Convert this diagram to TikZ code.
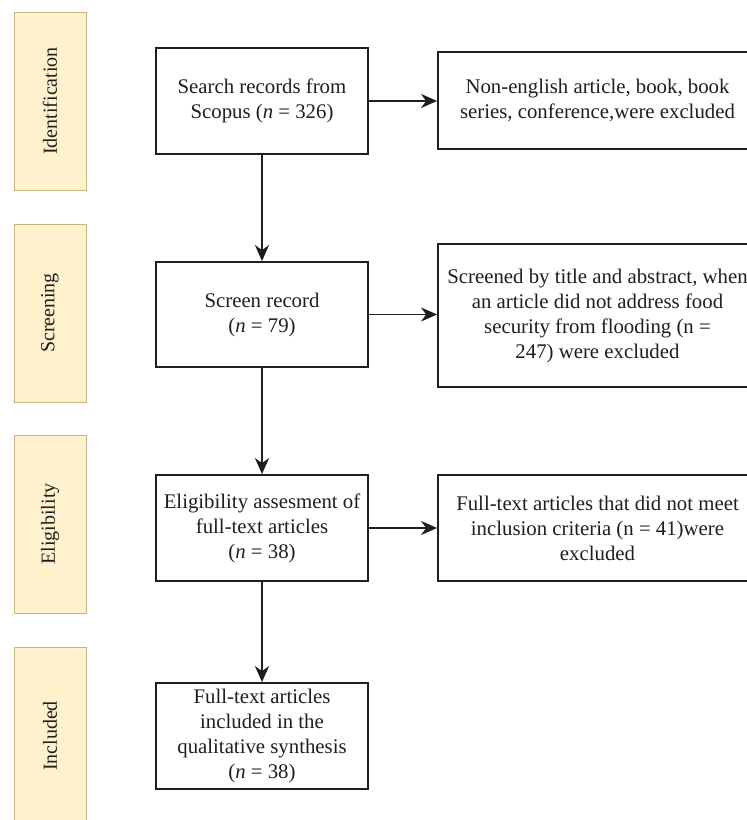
\documentclass[tikz,border=0pt]{standalone}
\usepackage{fontspec}
\setmainfont{Liberation Serif}
\usetikzlibrary{arrows.meta}
\definecolor{sidefill}{HTML}{FFF2CC}
\definecolor{sidedraw}{HTML}{C9B47E}
\definecolor{ink}{HTML}{1E1E1E}
\tikzset{
  mainbox/.style={draw=ink, line width=1.8pt, fill=white, inner sep=2pt, align=center, text=ink,
    font=\fontsize{20.8}{25}\selectfont, minimum width=212pt},
  sidebox/.style={draw=sidedraw, line width=1pt, fill=sidefill, minimum width=72pt, minimum height=178pt, inner sep=0pt},
  sidetext/.style={rotate=90, text=ink, font=\fontsize{20}{24}\selectfont},
  flow/.style={draw=ink, line width=1.8pt, -{Stealth[length=16pt,width=14pt,inset=5pt]}}
}
\begin{document}
\begin{tikzpicture}[x=1pt,y=-1pt]
\useasboundingbox (0,0) rectangle (747,820);
\clip (0,0) rectangle (747,820);
% side labels
\node[sidebox] (s1) at (50,101) {};
\node[sidetext] (t1) at (s1.center) {Identification};
\node[sidebox] (s2) at (50,313) {};
\node[sidetext] (t2) at (s2.center) {Screening};
\node[sidebox] (s3) at (50,524) {};
\node[sidetext] (t3) at (s3.center) {Eligibility};
\node[sidebox] (s4) at (50,736) {};
\node[sidetext] (t4) at (s4.center) {Included};
% main boxes
\node[mainbox, minimum height=106pt] (b1) at (262,101) {Search records from\\Scopus (\textit{n} = 326)};
\node[mainbox, minimum height=105pt] (b2) at (262,314.5) {Screen record\\(\textit{n} = 79)};
\node[mainbox, minimum height=106pt] (b3) at (262,528) {Eligibility assesment of\\full-text articles\\(\textit{n} = 38)};
\node[mainbox, minimum height=106pt] (b4) at (262,736) {Full-text articles\\included in the\\qualitative synthesis\\(\textit{n} = 38)};
% right boxes
\node[mainbox, minimum width=319pt, minimum height=97pt] (r1) at (597.5,100.5) {Non-english article, book, book\\series, conference,were excluded};
\node[mainbox, minimum width=319pt, minimum height=143pt] (r2) at (597.5,315.5) {Screened by title and abstract, when\\an article did not address food\\security from flooding (n =\\247) were excluded};
\node[mainbox, minimum width=319pt, minimum height=106pt] (r3) at (597.5,528) {Full-text articles that did not meet\\inclusion criteria (n = 41)were\\excluded};
% connectors
\draw[flow] (b1) -- (b2);
\draw[flow] (b2) -- (b3);
\draw[flow] (b3) -- (b4);
\draw[flow] (b1.east) -- (b1.east -| r1.west);
\draw[flow] (b2.east) -- (b2.east -| r2.west);
\draw[flow] (b3.east) -- (b3.east -| r3.west);
\end{tikzpicture}
\end{document}
